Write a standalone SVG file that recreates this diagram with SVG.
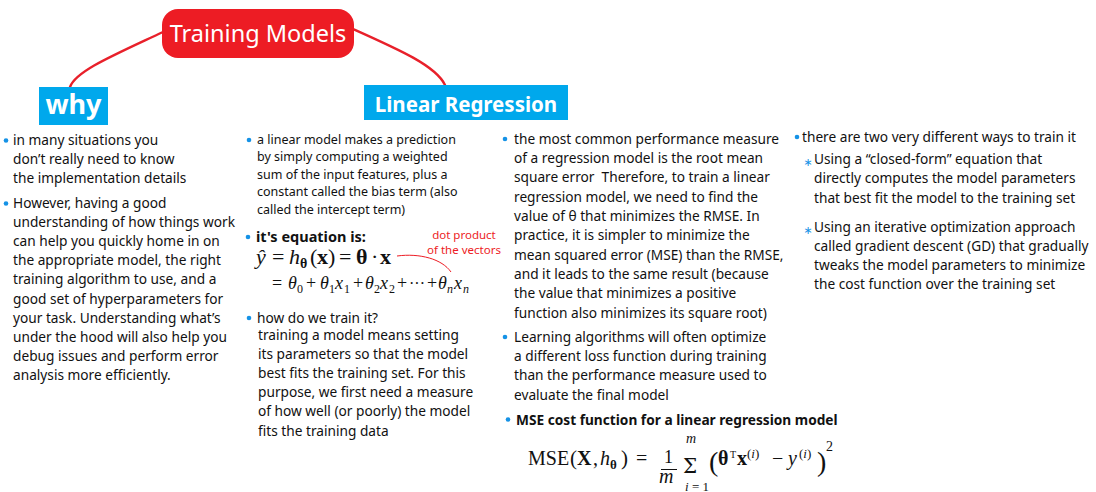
<svg xmlns="http://www.w3.org/2000/svg" width="1096" height="492" viewBox="0 0 1096 492">
<style>
.t{font-family:"Noto Sans","Open Sans",sans-serif;fill:#111;}
.s13{font-size:13.7px;}
.s12{font-size:12.5px;}
.b{font-weight:bold;}
.dot{fill:#1592E6;}
.star{font-family:"DejaVu Sans",sans-serif;font-size:11px;fill:#1592E6;text-anchor:middle;}
.m{font-family:"Liberation Serif","DejaVu Serif",serif;fill:#111;}
.i{font-style:italic;}
.red{font-family:"Noto Sans",sans-serif;font-size:11.5px;fill:#ED1C24;text-anchor:middle;}
.conn{fill:none;stroke:#E8202A;stroke-width:2.4;stroke-linecap:round;}
</style>
<rect width="1096" height="492" fill="#fff"/>
<g id="connectors">
<path class="conn" d="M163,32 C112,56 76,71 70,87"/>
<path class="conn" d="M353,29 C400,50 436,66 445,85"/>
<path d="M397,256 C420,253 442,259 451,272" fill="none" stroke="#ED1C24" stroke-width="1"/>
</g>
<g id="title">
<rect x="162" y="9" width="192" height="49" rx="16" fill="#ED1C24"/>
<text x="258" y="41.5" text-anchor="middle" font-family="Noto Sans, sans-serif" font-size="23.5" fill="#fff">Training Models</text>
</g>
<g id="why">
<rect x="39" y="87" width="69" height="38" fill="#00A8EC"/>
<text x="73.5" y="114" text-anchor="middle" font-family="Noto Sans, sans-serif" font-size="27" font-weight="bold" fill="#fff">why</text>
</g>
<g id="linear-regression">
<rect x="364" y="85" width="204" height="35" fill="#00A8EC"/>
<text x="466" y="112" text-anchor="middle" font-family="Noto Sans, sans-serif" font-size="20.5" font-weight="bold" fill="#fff">Linear Regression</text>
</g>
<g id="why-notes">
<circle class="dot" cx="6" cy="140.5" r="2.3"/>
<circle class="dot" cx="6" cy="203.5" r="2.3"/>
<text class="t s13" x="13">
<tspan x="13" y="144.5">in many situations you</tspan>
<tspan x="13" y="163.5">don’t really need to know</tspan>
<tspan x="13" y="182.5">the implementation details</tspan>
<tspan x="13" y="207.5">However, having a good</tspan>
<tspan x="13" y="226.7">understanding of how things work</tspan>
<tspan x="13" y="245.9">can help you quickly home in on</tspan>
<tspan x="13" y="265.1">the appropriate model, the right</tspan>
<tspan x="13" y="284.3">training algorithm to use, and a</tspan>
<tspan x="13" y="303.5">good set of hyperparameters for</tspan>
<tspan x="13" y="322.7">your task. Understanding what’s</tspan>
<tspan x="13" y="341.9">under the hood will also help you</tspan>
<tspan x="13" y="361.1">debug issues and perform error</tspan>
<tspan x="13" y="380.3">analysis more efficiently.</tspan>
</text>
</g>
<g id="lr-notes-1">
<circle class="dot" cx="249" cy="140" r="2.3"/>
<text class="t s12">
<tspan x="257" y="143.5">a linear model makes a prediction</tspan>
<tspan x="257" y="161">by simply computing a weighted</tspan>
<tspan x="257" y="178.5">sum of the input features, plus a</tspan>
<tspan x="257" y="196">constant called the bias term (also</tspan>
<tspan x="257" y="213.5">called the intercept term)</tspan>
</text>
<circle class="dot" cx="248" cy="237" r="2.3"/>
<text class="t b" x="256" y="242" font-size="14.5">it's equation is:</text>
<g id="eq1">
<text class="m i" x="256" y="264" font-size="22">ŷ</text>
<text class="m" x="272" y="264" font-size="22">=</text>
<text class="m i" x="289" y="264" font-size="22">h</text>
<text class="m" x="300" y="268" font-size="14" font-weight="bold">θ</text>
<text class="m" x="310" y="264" font-size="22">(</text>
<text class="m" x="317" y="264" font-size="22" font-weight="bold">x</text>
<text class="m" x="328" y="264" font-size="22">)</text>
<text class="m" x="339" y="264" font-size="22">=</text>
<text class="m" x="356" y="264" font-size="22" font-weight="bold">θ</text>
<text class="m" x="371" y="264" font-size="22">·</text>
<text class="m" x="380" y="264" font-size="22" font-weight="bold">x</text>
</g>
<g id="eq2" fill="#333">
<text class="m" x="272" y="289" font-size="18">=</text>
<text class="m i" x="288" y="289" font-size="18">θ</text><text class="m" x="297" y="293" font-size="12">0</text>
<text class="m" x="306" y="289" font-size="18">+</text>
<text class="m i" x="320" y="289" font-size="18">θ</text><text class="m" x="329" y="293" font-size="12">1</text>
<text class="m i" x="335" y="289" font-size="18">x</text><text class="m" x="344" y="293" font-size="12">1</text>
<text class="m" x="353" y="289" font-size="18">+</text>
<text class="m i" x="365" y="289" font-size="18">θ</text><text class="m" x="374" y="293" font-size="12">2</text>
<text class="m i" x="380" y="289" font-size="18">x</text><text class="m" x="389" y="293" font-size="12">2</text>
<text class="m" x="397" y="289" font-size="18">+</text>
<text class="m" x="409" y="289" font-size="16">···</text>
<text class="m" x="427" y="289" font-size="18">+</text>
<text class="m i" x="438" y="289" font-size="18">θ</text><text class="m i" x="447" y="293" font-size="12">n</text>
<text class="m i" x="454" y="289" font-size="18">x</text><text class="m i" x="463" y="293" font-size="12">n</text>
</g>
<text class="red" x="464" y="239">dot product</text>
<text class="red" x="464" y="254">of the vectors</text>
<circle class="dot" cx="249" cy="318" r="2.3"/>
<text class="t s13">
<tspan x="257" y="322.5">how do we train it?</tspan>
<tspan x="258" y="339.5">training a model means setting</tspan>
<tspan x="258" y="358.7">its parameters so that the model</tspan>
<tspan x="258" y="377.9">best fits the training set. For this</tspan>
<tspan x="258" y="397.1">purpose, we first need a measure</tspan>
<tspan x="258" y="416.3">of how well (or poorly) the model</tspan>
<tspan x="258" y="435.5">fits the training data</tspan>
</text>
</g>
<g id="lr-notes-2">
<circle class="dot" cx="505" cy="139" r="2.3"/>
<text class="t s13">
<tspan x="514" y="143.5">the most common performance measure</tspan>
<tspan x="514" y="162.8">of a regression model is the root mean</tspan>
<tspan x="514" y="182.2">square error&#160; Therefore, to train a linear</tspan>
<tspan x="514" y="201.5">regression model, we need to find the</tspan>
<tspan x="514" y="220.8">value of θ that minimizes the RMSE. In</tspan>
<tspan x="514" y="240.2">practice, it is simpler to minimize the</tspan>
<tspan x="514" y="259.5">mean squared error (MSE) than the RMSE,</tspan>
<tspan x="514" y="278.8">and it leads to the same result (because</tspan>
<tspan x="514" y="298.2">the value that minimizes a positive</tspan>
<tspan x="514" y="317.5">function also minimizes its square root)</tspan>
</text>
<circle class="dot" cx="505" cy="337" r="2.3"/>
<text class="t s13">
<tspan x="514" y="341.5">Learning algorithms will often optimize</tspan>
<tspan x="514" y="360.8">a different loss function during training</tspan>
<tspan x="514" y="380.2">than the performance measure used to</tspan>
<tspan x="514" y="399.5">evaluate the final model</tspan>
</text>
<circle class="dot" cx="508" cy="419.5" r="2.3"/>
<text class="t b" x="516" y="424.5" font-size="13.7">MSE cost function for a linear regression model</text>
<g id="eq-mse">
<text class="m" x="528" y="465" font-size="20">MSE</text>
<text class="m" x="570" y="465" font-size="21">(</text>
<text class="m" x="577" y="465" font-size="20" font-weight="bold">X</text>
<text class="m" x="593" y="465" font-size="20">,</text>
<text class="m i" x="600" y="465" font-size="20">h</text>
<text class="m" x="610" y="469" font-size="13" font-weight="bold">θ</text>
<text class="m" x="621" y="465" font-size="21">)</text>
<text class="m" x="636" y="465" font-size="20">=</text>
<text class="m" x="664" y="463" font-size="18">1</text>
<line x1="661" y1="469.5" x2="677" y2="469.5" stroke="#111" stroke-width="1"/>
<text class="m i" x="659" y="483" font-size="20">m</text>
<text x="683" y="473" font-size="20" font-family="DejaVu Serif, serif" fill="#111">Σ</text>
<text class="m i" x="686" y="443" font-size="14">m</text>
<text class="m i" x="685" y="491" font-size="13">i <tspan font-style="normal">= 1</tspan></text>
<text class="m" x="709" y="471" font-size="28">(</text>
<text class="m" x="718" y="465" font-size="20" font-weight="bold">θ</text>
<text class="m" x="730" y="458" font-size="10" font-family="Noto Sans, sans-serif">T</text>
<text class="m" x="737" y="465" font-size="20" font-weight="bold">x</text>
<text class="m" x="747" y="458" font-size="13">(<tspan font-style="italic">i</tspan>)</text>
<text class="m" x="772" y="465" font-size="20">−</text>
<text class="m i" x="788" y="465" font-size="20">y</text>
<text class="m" x="799" y="458" font-size="13">(<tspan font-style="italic">i</tspan>)</text>
<text class="m" x="817" y="471" font-size="28">)</text>
<text class="m" x="826" y="451" font-size="14">2</text>
</g>
</g>
<g id="lr-notes-3">
<circle class="dot" cx="797" cy="137" r="2.3"/>
<text class="t s13" x="802" y="141.7">there are two very different ways to train it</text>
<text class="star" x="808" y="166">∗</text>
<text class="t s13">
<tspan x="814" y="164">Using a “closed-form” equation that</tspan>
<tspan x="814" y="183.2">directly computes the model parameters</tspan>
<tspan x="814" y="202.5">that best fit the model to the training set</tspan>
</text>
<text class="star" x="808" y="234">∗</text>
<text class="t s13">
<tspan x="814" y="232">Using an iterative optimization approach</tspan>
<tspan x="814" y="251">called gradient descent (GD) that gradually</tspan>
<tspan x="814" y="270">tweaks the model parameters to minimize</tspan>
<tspan x="814" y="289">the cost function over the training set</tspan>
</text>
</g>
</svg>
